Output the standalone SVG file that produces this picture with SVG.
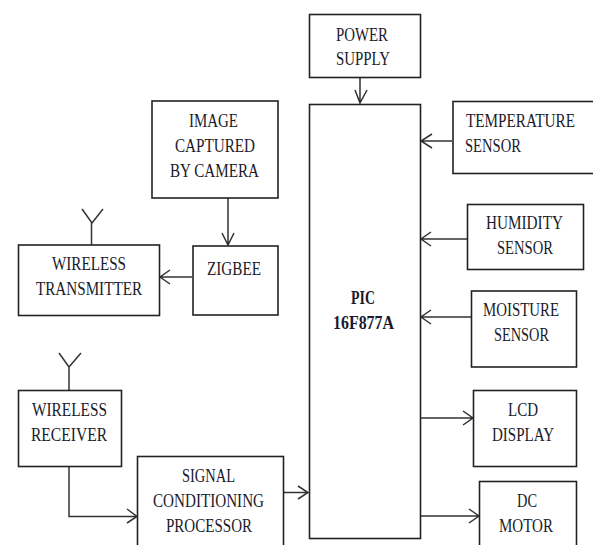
<svg xmlns="http://www.w3.org/2000/svg" width="593" height="545" viewBox="0 0 593 545">
<style>
rect{fill:#fff;stroke:#222;stroke-width:1.6}
path{fill:none;stroke:#333;stroke-width:1.5}
text{font-family:"Liberation Serif","Times New Roman",serif;font-size:18px;fill:#1a1a2a;text-anchor:middle}
.b{font-weight:bold}
</style>
<rect width="593" height="545" style="fill:#fff;stroke:none"/>
<g id="connectors">
<path d="M360 78V103M355 90L360 103L367 90"/>
<path d="M228 198V245M222 233L228 245L234 233"/>
<path d="M192 277H160M170 270L160 277L170 284"/>
<path d="M91.500 245V223M82 209L92 223L103 209"/>
<path d="M69 390V367M59 353L69 367L81 353"/>
<path d="M452 141H421M432 134L421 141L432 148"/>
<path d="M467 239H421M431 232L421 239L431 246"/>
<path d="M471 317H421M431 310L421 317L431 324"/>
<path d="M420 418H473M463 411L473 418L463 425"/>
<path d="M420 516H479M469 509L479 516L469 523"/>
<path d="M69 466V516.500H137M127 509L137 516.500L127 523"/>
<path d="M283 492.500H308M298 486L308 492.500L298 499"/>
</g>
<g id="power"><rect x="309.500" y="14.500" width="111" height="63"/><text x="362" y="41" textLength="52" lengthAdjust="spacingAndGlyphs">POWER</text><text x="363" y="65" textLength="54" lengthAdjust="spacingAndGlyphs">SUPPLY</text></g>
<g id="pic"><rect x="309.500" y="104.500" width="111" height="434"/><text class="b" x="363" y="304" textLength="24" lengthAdjust="spacingAndGlyphs">PIC</text><text class="b" x="363.500" y="329" textLength="61" lengthAdjust="spacingAndGlyphs">16F877A</text></g>
<g id="camera"><rect x="152" y="101" width="126" height="97"/><text x="213.500" y="127" textLength="49" lengthAdjust="spacingAndGlyphs">IMAGE</text><text x="215" y="152" textLength="80" lengthAdjust="spacingAndGlyphs">CAPTURED</text><text x="214.500" y="177" textLength="89" lengthAdjust="spacingAndGlyphs">BY CAMERA</text></g>
<g id="zigbee"><rect x="193" y="246" width="85" height="69"/><text x="234" y="275" textLength="54" lengthAdjust="spacingAndGlyphs">ZIGBEE</text></g>
<g id="transmitter"><rect x="18.500" y="245" width="141" height="70.500"/><text x="89" y="270" textLength="74" lengthAdjust="spacingAndGlyphs">WIRELESS</text><text x="89" y="295" textLength="106" lengthAdjust="spacingAndGlyphs">TRANSMITTER</text></g>
<g id="receiver"><rect x="18.500" y="390.500" width="103" height="76"/><text x="69.500" y="416" textLength="75" lengthAdjust="spacingAndGlyphs">WIRELESS</text><text x="69" y="441" textLength="76" lengthAdjust="spacingAndGlyphs">RECEIVER</text></g>
<g id="signal"><rect x="137.500" y="456.500" width="146" height="100"/><text x="208.500" y="482" textLength="53" lengthAdjust="spacingAndGlyphs">SIGNAL</text><text x="208.500" y="507" textLength="111" lengthAdjust="spacingAndGlyphs">CONDITIONING</text><text x="209" y="532" textLength="86" lengthAdjust="spacingAndGlyphs">PROCESSOR</text></g>
<g id="temperature"><rect x="453" y="101.500" width="145" height="72"/><text x="520.500" y="127" textLength="109" lengthAdjust="spacingAndGlyphs">TEMPERATURE</text><text x="493" y="152" textLength="56" lengthAdjust="spacingAndGlyphs">SENSOR</text></g>
<g id="humidity"><rect x="467.500" y="204.500" width="116" height="65"/><text x="524.500" y="229" textLength="77" lengthAdjust="spacingAndGlyphs">HUMIDITY</text><text x="525" y="254" textLength="56" lengthAdjust="spacingAndGlyphs">SENSOR</text></g>
<g id="moisture"><rect x="471.500" y="291" width="105" height="76"/><text x="521" y="316" textLength="76" lengthAdjust="spacingAndGlyphs">MOISTURE</text><text x="521.500" y="341" textLength="55" lengthAdjust="spacingAndGlyphs">SENSOR</text></g>
<g id="lcd"><rect x="473.500" y="390.500" width="103" height="76"/><text x="523" y="416" textLength="30" lengthAdjust="spacingAndGlyphs">LCD</text><text x="523" y="441" textLength="62" lengthAdjust="spacingAndGlyphs">DISPLAY</text></g>
<g id="motor"><rect x="479.500" y="481.500" width="97" height="75"/><text x="527" y="507" textLength="20" lengthAdjust="spacingAndGlyphs">DC</text><text x="526" y="532" textLength="54" lengthAdjust="spacingAndGlyphs">MOTOR</text></g>
</svg>
